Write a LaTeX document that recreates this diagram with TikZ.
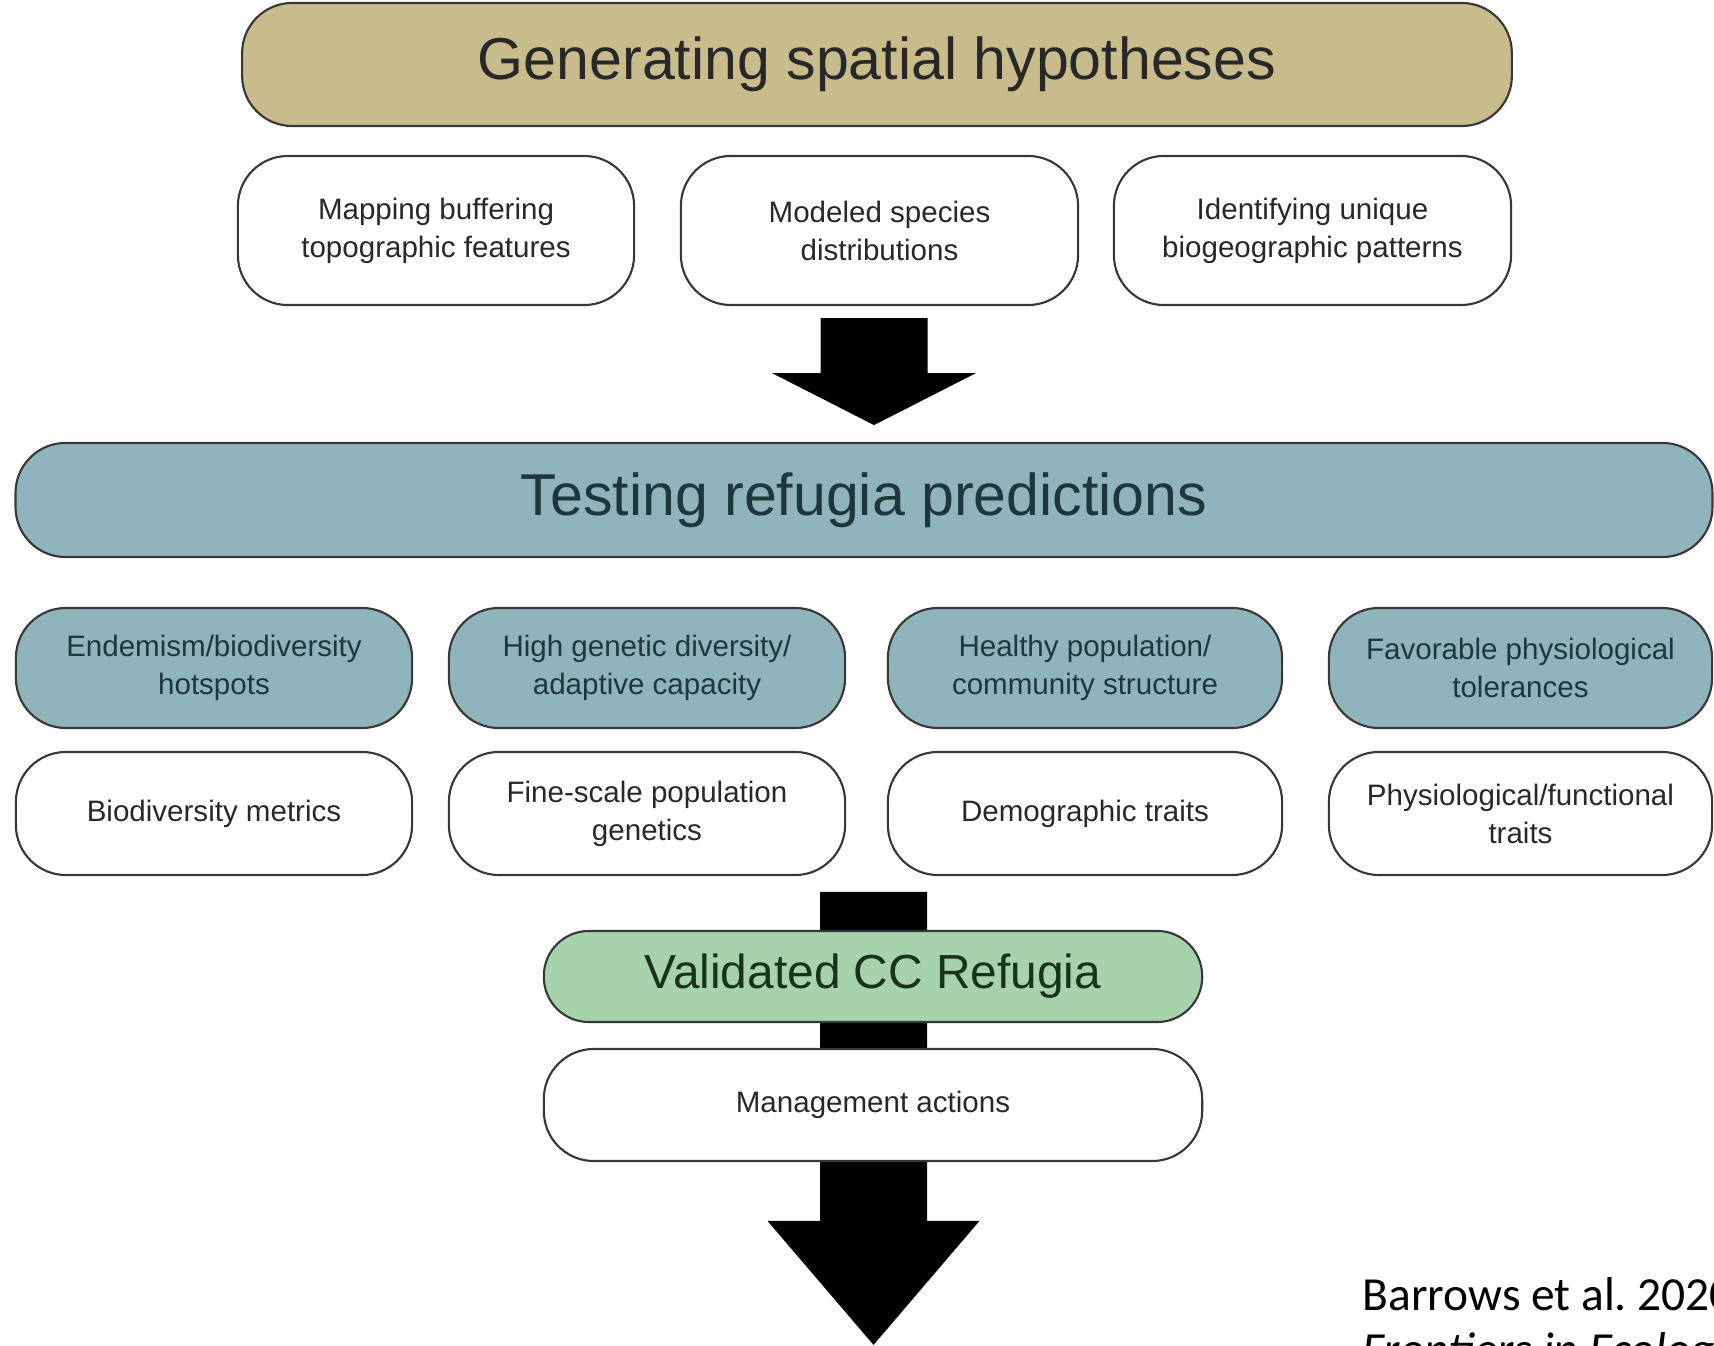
\documentclass[tikz,border=0pt]{standalone}
\usepackage{fontspec}
\setmainfont{Liberation Sans}
\newfontfamily\citefont{Carlito}
\usetikzlibrary{backgrounds,calc}
\definecolor{hypofill}{RGB}{200,187,140}
\definecolor{testfill}{RGB}{143,180,188}
\definecolor{validfill}{RGB}{166,211,171}
\definecolor{edgegray}{RGB}{55,55,55}
\definecolor{textgray}{RGB}{40,40,40}
\definecolor{testtext}{RGB}{30,55,60}
\definecolor{validtext}{RGB}{25,50,30}
\begin{document}
\begin{tikzpicture}[x=0.01cm,y=-0.01cm,
  stage/.style={draw=edgegray,line width=0.6pt,rounded corners=0.5cm,text=textgray,align=center,inner sep=0pt},
  item/.style={stage,fill=white,font=\fontsize{8.4}{10.8}\selectfont},
  test item/.style={item,fill=testfill,text=testtext},
  cite text/.style={anchor=base west,inner sep=0pt,font=\citefont\fontsize{13.5}{15}\selectfont}]
\useasboundingbox (0,0) rectangle (1714,1346);
% header
\node[stage,fill=hypofill,minimum width=12.69cm,minimum height=1.23cm,font=\fontsize{16.8}{18}\selectfont] (hypo) at (877,64.5) {Generating spatial hypotheses};
\node[item,minimum width=3.96cm,minimum height=1.49cm] (topo) at (436,230.5) {Mapping buffering\\topographic features};
\node[item,minimum width=3.97cm,minimum height=1.49cm] (distr) at (879.5,230.5) {Modeled species\\distributions};
\node[item,minimum width=3.97cm,minimum height=1.49cm] (biogeo) at (1312.5,230.5) {Identifying unique\\biogeographic patterns};
% testing
\node[stage,fill=testfill,text=testtext,minimum width=16.96cm,minimum height=1.14cm,font=\fontsize{16.8}{18}\selectfont] (test) at (864,500) {Testing refugia predictions};
\node[test item,minimum width=3.96cm,minimum height=1.2cm] (endem) at (214,668) {Endemism/biodiversity\\hotspots};
\node[test item,minimum width=3.96cm,minimum height=1.2cm] (genet) at (647,668) {High genetic diversity/\\adaptive capacity};
\node[test item,minimum width=3.94cm,minimum height=1.2cm] (popul) at (1085,668) {Healthy population/\\community structure};
\node[test item,minimum width=3.83cm,minimum height=1.2cm] (physio) at (1520.5,668) {Favorable physiological\\tolerances};
\node[item,minimum width=3.96cm,minimum height=1.23cm] (metric) at (214,813.5) {Biodiversity metrics};
\node[item,minimum width=3.96cm,minimum height=1.23cm] (fine) at (647,813.5) {Fine-scale population\\genetics};
\node[item,minimum width=3.94cm,minimum height=1.23cm] (demo) at (1085,813.5) {Demographic traits};
\node[item,minimum width=3.83cm,minimum height=1.23cm] (functr) at (1520.5,813.5) {Physiological/functional\\traits};
% outcome
\node[stage,fill=validfill,text=validtext,minimum width=6.58cm,minimum height=0.91cm,rounded corners=0.45cm,font=\fontsize{13.6}{15}\selectfont] (valid) at (873,976.5) {Validated CC Refugia};
\node[item,minimum width=6.58cm,minimum height=1.12cm] (manage) at (873,1105) {Management actions};
% block arrows
\coordinate (a1top) at ($(distr.south)+(-5.5,12)$);
\coordinate (a2top) at ($(valid.north)+(0.5,-38)$);
\begin{scope}[on background layer]
\fill[shift={(a1top)}] (-53.5,0) -- (-53.5,55) -- (-102,55) -- (0,107) -- (102,55) -- (53.5,55) -- (53.5,0) -- cycle;
\fill[shift={(a2top)}] (-53.5,0) -- (-53.5,329) -- (-106,329) -- (0,453) -- (106,329) -- (53.5,329) -- (53.5,0) -- cycle;
\end{scope}
\node[cite text] (cite) at (1362,1310) {Barrows et al.\ 2020};
\node[cite text,font=\citefont\fontsize{13.5}{15}\selectfont\itshape] (journal) at ($(cite.base west)+(0,55)$) {Frontiers in Ecology};
\end{tikzpicture}
\end{document}
